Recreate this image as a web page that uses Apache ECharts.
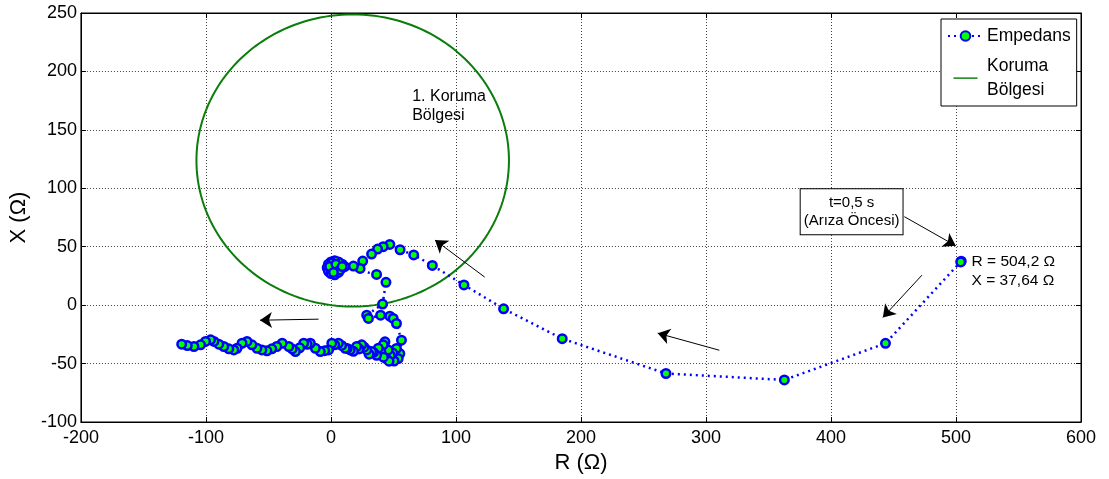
<!DOCTYPE html>
<html><head><meta charset="utf-8">
<script src="https://cdn.jsdelivr.net/npm/echarts@6/dist/echarts.min.js"></script>
<style>html,body{margin:0;padding:0;background:#fff}#c{width:1109px;height:479px}</style>
</head><body><div id="c"></div>
<script>
// ---- data (R, X in ohm) ----
const approachPts = [[504.2,37.64],[503.8,37.0],[443.6,-32.7],[362.7,-64.0],[268.0,-58.5],[185.0,-28.7],[138.1,-3.1],[106.4,17.3],[81.1,34.0],[66.2,43.0],[55.3,47.4],[47.1,52.0],[41.8,50.0],[37.3,48.0],[32.5,43.7],[25.4,37.7],[23.3,31.4],[18.0,33.4]];
const clusterPts = [[11,33],[9,35],[6,37],[3,38],[0,37],[-2,35],[-3,32],[-2,29],[0,27],[3,26],[6,28],[8,31],[5,33],[2,34],[0,31],[3,30],[1,36],[-1,33],[4,35],[7,30],[2,28],[9,33]];
const descentPts = [[36.5,26.3],[44.0,19.5],[41.3,0.9],[28.6,-8.6],[30.0,-11.4],[39.7,-8.6],[47.1,-9.4],[49.8,-11.4],[52.4,-15.7],[56.4,-30.0]];
const bandPts = [[55.1,-41.4],[53.8,-45.7],[50.5,-47.8],[52.4,-37.1],[49.5,-41.0],[47.5,-43.0],[44.5,-46.0],[46.5,-48.0],[45.8,-38.3],[43.2,-31.4],[41.8,-34.0],[40.0,-40.0],[42.0,-44.5],[37.9,-36.9],[36.5,-42.9],[34.0,-40.5],[32.5,-39.7],[30.5,-42.0],[28.6,-38.3],[26.5,-36.0],[24.6,-34.0],[22.5,-37.5],[20.6,-35.4],[18.0,-39.5],[15.4,-38.3],[13.0,-37.0],[11.4,-36.9],[8.5,-34.5],[6.0,-32.6],[3.0,-34.0],[0.7,-32.6],[-1.9,-38.3],[-5.0,-39.0],[-8.5,-39.7],[-12.5,-36.9],[-16.5,-32.6],[-19.0,-33.5],[-21.8,-32.6],[-25.0,-36.5],[-28.4,-39.7],[-31.0,-37.5],[-33.7,-35.4],[-39.0,-32.6],[-43.3,-35.4],[-47.3,-37.4],[-51.2,-39.1],[-55.2,-38.3],[-59.2,-36.9],[-63.2,-34.0],[-67.1,-31.1],[-71.1,-32.6],[-75.1,-36.9],[-77.7,-38.3],[-81.7,-37.4],[-85.7,-35.4],[-89.7,-33.4],[-93.6,-31.1],[-96.3,-29.7],[-100.3,-31.1],[-104.3,-34.0],[-109.6,-35.4],[-114.9,-34.6],[-119.4,-33.4]];
const circleCenter = [17.4, 123.8];
const circleRadius = 125;
const seriesNames = ['Empedans', 'Koruma Bölgesi'];
const xRange = [-200, 600, 100];
const yRange = [-100, 250, 50];
// annotation arrows in data units: [from, to]
const arrows = [
  [[123,24],[83.2,55.7]],
  [[310.7,-38.6],[261.4,-24]],
  [[-9.9,-12],[-56.8,-12.9]],
  [[472.8,25.7],[441.5,-10.5]],
  [[458.7,75.7],[499.8,50.8]]
];
const zoneLabel = {at:[65,187], text:'1. Koruma\nBölgesi'};
const faultBox = {at:[416.5,80], text:'t=0,5 s\n(Arıza Öncesi)'};
const pointLabel = {at:[512.5,45], text:'R = 504,2 Ω\nX = 37,64 Ω'};

const impedance = approachPts.concat(clusterPts, descentPts, bandPts);

const chart = echarts.init(document.getElementById('c'), null, {renderer:'canvas'});
const FONT = 'Liberation Sans, Arial, sans-serif';
const gridLine = {show:true, lineStyle:{color:'#444', type:[1,2], width:1}};
const option = {
  animation:false,
  backgroundColor:'#fff',
  grid:{left:76, right:28, top:13, bottom:57, show:true, borderColor:'#000', borderWidth:1, backgroundColor:'transparent'},
  xAxis:[{
    type:'value', min:xRange[0], max:xRange[1], interval:xRange[2], position:'bottom',
    name:'R (Ω)', nameLocation:'middle', nameGap:30,
    nameTextStyle:{fontSize:22, fontFamily:FONT, color:'#000'},
    axisLine:{show:true, onZero:false, lineStyle:{color:'#000'}},
    axisTick:{show:true, inside:true, length:5, lineStyle:{color:'#000'}},
    axisLabel:{fontSize:18, fontFamily:FONT, color:'#000', margin:7},
    splitLine:gridLine
  },{
    type:'value', min:xRange[0], max:xRange[1], interval:xRange[2], position:'top',
    axisLine:{show:true, onZero:false, lineStyle:{color:'#000'}},
    axisTick:{show:true, inside:true, length:5, lineStyle:{color:'#000'}},
    axisLabel:{show:false}, splitLine:{show:false}
  }],
  yAxis:[{
    type:'value', min:yRange[0], max:yRange[1], interval:yRange[2], position:'left',
    name:'X (Ω)', nameLocation:'middle', nameGap:39, nameRotate:90,
    nameTextStyle:{fontSize:22, fontFamily:FONT, color:'#000'},
    axisLine:{show:true, onZero:false, lineStyle:{color:'#000'}},
    axisTick:{show:true, inside:true, length:5, lineStyle:{color:'#000'}},
    axisLabel:{fontSize:18, fontFamily:FONT, color:'#000', margin:4},
    splitLine:gridLine
  },{
    type:'value', min:yRange[0], max:yRange[1], interval:yRange[2], position:'right',
    axisLine:{show:true, onZero:false, lineStyle:{color:'#000'}},
    axisTick:{show:true, inside:true, length:5, lineStyle:{color:'#000'}},
    axisLabel:{show:false}, splitLine:{show:false}
  }],
  legend:{
    orient:'vertical', left:941, top:19, width:136,
    padding:[5,6,4,6], itemGap:6, itemWidth:35, itemHeight:12,
    backgroundColor:'#fff', borderColor:'#000', borderWidth:1, borderRadius:0,
    textStyle:{fontSize:17.5, fontFamily:FONT, color:'#000', lineHeight:24, padding:[0,0,0,-1]},
    formatter:function(n){ return n === 'Koruma Bölgesi' ? 'Koruma\nBölgesi' : n; },
    data:[
      {name:seriesNames[0]},
      {name:seriesNames[1], icon:'path://M0,0M0,9L40,9L40,11.4L0,11.4ZM0,20'}
    ]
  },
  series:[{
    name:seriesNames[1], type:'custom', z:2,
    itemStyle:{color:'#0b7d0b'},
    data:[[circleCenter[0], circleCenter[1], circleRadius]],
    renderItem:function(params, api){
      const cx = api.value(0), cy = api.value(1), r = api.value(2);
      const pts = [];
      for (let a = 0; a <= 360; a += 2) {
        const t = a * Math.PI / 180;
        pts.push(api.coord([cx + r * Math.cos(t), cy + r * Math.sin(t)]));
      }
      return {type:'polyline', shape:{points:pts}, style:{stroke:'#0b7d0b', lineWidth:2, fill:null}};
    }
  },{
    name:seriesNames[0], type:'line', z:5,
    data:impedance,
    symbol:'circle', symbolSize:8.5, showAllSymbol:true,
    itemStyle:{color:'#00ff00', borderColor:'#0000ff', borderWidth:2.5},
    lineStyle:{color:'#0000ff', width:2.5, type:[2,4]},
    markLine:{
      silent:true, animation:false, symbol:['none','arrow'], symbolSize:12,
      label:{show:false},
      lineStyle:{color:'#000', width:1, type:'solid'},
      emphasis:{disabled:true},
      data:arrows.map(a => [{coord:a[0]},{coord:a[1]}])
    }
  }]
};
chart.setOption(option);

function px(p){ return chart.convertToPixel({gridIndex:0}, p); }
const zp = px(zoneLabel.at), fp = px(faultBox.at), pp = px(pointLabel.at);
chart.setOption({graphic:[
  {type:'text', left:zp[0], top:zp[1], z:10,
   style:{text:zoneLabel.text, fontSize:16, fontFamily:FONT, fill:'#000', lineHeight:19}},
  {type:'text', x:fp[0], y:fp[1], z:10,
   style:{text:faultBox.text, fontSize:15, fontFamily:FONT, fill:'#000', lineHeight:18,
     align:'center', verticalAlign:'middle', backgroundColor:'#fff', borderColor:'#000', borderWidth:1,
     padding:[5,3,4,3]}},
  {type:'text', left:pp[0], top:pp[1], z:10,
   style:{text:pointLabel.text, fontSize:15.5, fontFamily:FONT, fill:'#000', lineHeight:19}}
]});
</script></body></html>
